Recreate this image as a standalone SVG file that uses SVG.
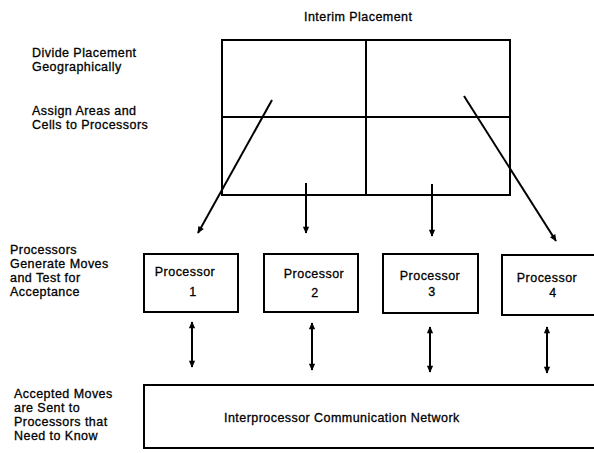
<svg xmlns="http://www.w3.org/2000/svg" width="594" height="453" viewBox="0 0 594 453">
<style>
text{font-family:"Liberation Sans",Arial,sans-serif;font-size:12.5px;letter-spacing:0.45px;fill:#000;stroke:#000;stroke-width:0.3}
.box{fill:#fff;stroke:#000;stroke-width:2}
.ln{stroke:#000;stroke-width:2;fill:none}
.mid{text-anchor:middle}
</style>
<defs>
<marker id="ah" viewBox="0 0 10 10" refX="9" refY="5" markerWidth="4.5" markerHeight="3.5" orient="auto-start-reverse" markerUnits="strokeWidth">
<path d="M0,0.5 L10,5 L0,9.5 Z" fill="#000"/>
</marker>
</defs>
<rect width="594" height="453" fill="#fff"/>
<g id="labels">
<text x="304" y="21">Interim Placement</text>
<text x="32" y="57">Divide Placement</text>
<text x="32" y="71">Geographically</text>
<text x="32" y="115">Assign Areas and</text>
<text x="32" y="129">Cells to Processors</text>
<text x="10" y="254">Processors</text>
<text x="10" y="268">Generate Moves</text>
<text x="10" y="282">and Test for</text>
<text x="10" y="296">Acceptance</text>
<text x="14" y="398">Accepted Moves</text>
<text x="14" y="412">are Sent to</text>
<text x="14" y="426">Processors that</text>
<text x="14" y="440">Need to Know</text>
</g>
<g id="placement">
<rect class="box" x="222" y="40" width="288" height="155"/>
<line class="ln" x1="366" y1="40" x2="366" y2="195"/>
<line class="ln" x1="222" y1="117" x2="510" y2="117"/>
</g>
<g id="proc1">
<rect class="box" x="144" y="254" width="94" height="58"/>
<text class="mid" x="185" y="276">Processor</text>
<text class="mid" x="193" y="296">1</text>
</g>
<g id="proc2">
<rect class="box" x="264" y="254" width="94" height="58"/>
<text class="mid" x="314" y="278">Processor</text>
<text class="mid" x="315" y="297">2</text>
</g>
<g id="proc3">
<rect class="box" x="383" y="254" width="95" height="59"/>
<text class="mid" x="430" y="280">Processor</text>
<text class="mid" x="432" y="296">3</text>
</g>
<g id="proc4">
<rect class="box" x="502" y="255" width="93" height="60"/>
<text class="mid" x="547" y="282">Processor</text>
<text class="mid" x="553" y="297">4</text>
</g>
<g id="network">
<rect class="box" x="144" y="385" width="460" height="63"/>
<text x="224" y="422">Interprocessor Communication Network</text>
</g>
<g id="connectors">
<line class="ln" x1="272" y1="100" x2="198" y2="233" marker-end="url(#ah)"/>
<line class="ln" x1="306" y1="183" x2="306" y2="233" marker-end="url(#ah)"/>
<line class="ln" x1="432" y1="184" x2="432" y2="236" marker-end="url(#ah)"/>
<line class="ln" x1="464" y1="96" x2="556" y2="241" marker-end="url(#ah)"/>
<line class="ln" x1="192" y1="322" x2="192" y2="367" marker-start="url(#ah)" marker-end="url(#ah)"/>
<line class="ln" x1="312" y1="323" x2="312" y2="370" marker-start="url(#ah)" marker-end="url(#ah)"/>
<line class="ln" x1="430" y1="327" x2="430" y2="372" marker-start="url(#ah)" marker-end="url(#ah)"/>
<line class="ln" x1="547" y1="327" x2="547" y2="373" marker-start="url(#ah)" marker-end="url(#ah)"/>
</g>
</svg>
